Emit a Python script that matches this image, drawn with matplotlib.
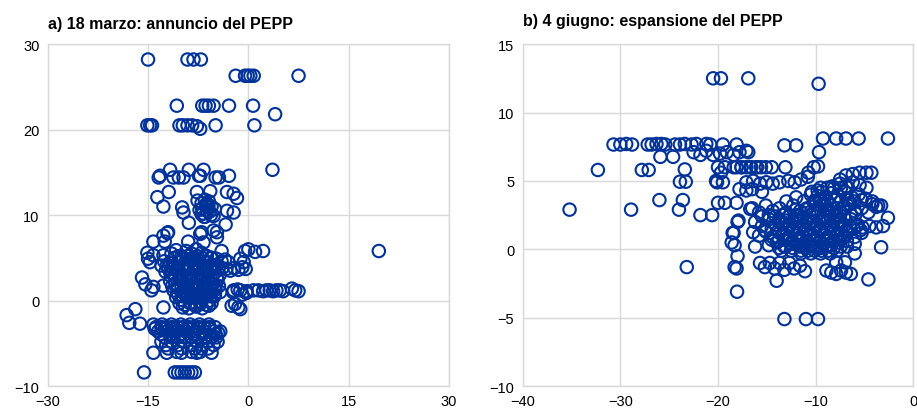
import matplotlib
matplotlib.use("Agg")
import matplotlib.pyplot as plt
import numpy as np

plt.rcParams['font.family'] = ['Liberation Sans', 'DejaVu Sans']

# %% panel a) 18 marzo
a_top_x = [-15.0, -9.1, -8.2, -7.1,
           -1.9, -0.5, -0.1, 0.3, 0.8, 7.5,
           -10.7, -6.9, -6.4, -5.9, -5.2, -2.9, 0.7,
           4.0,
           -15.1, -14.7, -14.4, -10.3, -9.8, -9.1, -8.4, -7.7, -7.2, -4.9, 0.9,
           3.6]
a_top_y = [28.2, 28.2, 28.2, 28.2,
           26.3, 26.3, 26.3, 26.3, 26.3, 26.3,
           22.8, 22.8, 22.8, 22.8, 22.8, 22.8, 22.8,
           21.8,
           20.5, 20.5, 20.5, 20.5, 20.5, 20.5, 20.5, 20.4, 20.1, 20.5, 20.5,
           15.3]

a_mid_x = [-13.4, -13.2, -11.7, -11.2, -10.4, -9.7, -8.9, -7.4, -7.2, -6.7, -4.9, -4.4, -2.9,
           -13.6, -12.7, -11.9, -9.9, -9.7, -8.9, -7.7, -5.7, -3.2, -2.2, -1.7, -3.2, -2.2, -3.4,
           -7.6, -7.0, -6.5, -6.0, -5.5, -5.0, -7.3, -6.8, -6.2, -5.6, -5.2, -6.6, -6.0,
           -6.9, -6.3, -5.8, -6.5, -7.0, -5.9,
           -14.2, -12.5, -12.1, -9.0, -7.0, -6.7, -5.2, -4.7, -4.0, -12.7, -12.0, -7.2, -4.7]
a_mid_y = [14.4, 14.6, 15.3, 14.4, 14.4, 14.4, 15.3, 14.6, 14.6, 15.3, 14.4, 14.4, 14.6,
           12.1, 11.0, 12.7, 10.9, 10.3, 9.1, 12.7, 12.8, 12.7, 12.5, 12.0, 10.5, 10.3, 8.9,
           11.7, 11.4, 11.8, 11.2, 11.0, 10.7, 10.6, 10.2, 10.5, 10.0, 9.9, 9.8, 11.0,
           10.8, 11.3, 10.4, 9.8, 10.1, 11.6,
           6.9, 6.9, 7.9, 6.9, 8.0, 6.8, 8.2, 7.4, 5.8, 7.6, 8.0, 7.8, 8.0]

a_core_x = [-11.5, -10.8, -10.0, -9.3, -8.5, -7.8, -7.0, -6.3, -5.6, -4.8, -4.0,
            -11.8, -11.0, -10.3, -9.6, -8.9, -8.2, -7.5, -6.8, -6.1, -5.4, -4.7, -3.9,
            -11.4, -10.6, -9.9, -9.2, -8.5, -7.8, -7.1, -6.4, -5.7, -5.0, -4.3,
            -11.7, -10.9, -10.2, -9.5, -8.8, -8.1, -7.4, -6.7, -6.0, -5.3, -4.6,
            -11.2, -10.5, -9.8, -9.1, -8.4, -7.7, -7.0, -6.3, -5.6, -4.9, -4.2,
            -10.8, -10.0, -9.3, -8.6, -7.9, -7.2, -6.5, -5.8, -5.1,
            -9.8, -8.9, -7.8, -6.9, -5.9,
            -3.3, -2.7, -2.1, -1.5, -0.9, -0.4, -3.5, -3.0,
            -2.3, -1.6, -0.9, -0.3,
            -0.5, 0.0, 1.0, 2.2, -1.2, -0.7,
            -15.1, -15.0, -14.7, -14.2, -12.7, -13.0, -12.6, -12.0, -12.4,
            -15.9, -15.4, -14.5, -14.2, -12.7, -11.7, -12.2, -12.7,
            -2.5, -2.0, -1.5, -1.2]
a_core_y = [5.5, 5.9, 5.2, 5.8, 5.5, 6.0, 5.6, 5.2, 5.0, 4.9, 4.6,
            4.4, 4.0, 4.6, 4.2, 4.8, 4.3, 4.7, 4.1, 4.5, 3.9, 4.2, 3.8,
            3.2, 3.5, 3.0, 3.6, 3.1, 3.5, 3.0, 3.4, 2.9, 3.3, 3.0,
            2.3, 2.0, 2.5, 1.9, 2.4, 2.0, 2.5, 1.9, 2.3, 2.0, 2.4,
            1.2, 1.5, 1.0, 1.4, 0.9, 1.3, 0.8, 1.2, 0.9, 1.3, 1.0,
            0.4, 0.1, 0.5, -0.2, 0.3, -0.1, 0.4, 0.0, 0.5,
            -0.8, -0.9, -0.7, -0.9, -0.6,
            3.7, 3.5, 3.8, 3.6, 3.9, 3.7, 4.8, 4.5,
            1.0, 1.3, 0.7, 0.9,
            5.8, 6.0, 5.7, 5.8, 4.9, 4.5,
            5.6, 4.9, 4.5, 5.3, 5.3, 4.1, 4.6, 3.8, 3.4,
            2.7, 1.9, 1.2, 1.6, 1.75, 3.3, 4.1, -0.8,
            -0.6, -0.4, -0.8, -1.0]

# second layer of the dense core
a_fill_x = [-11.1, -10.4, -9.7, -9.0, -8.3, -7.6, -6.9, -6.2, -5.5,
            -11.4, -10.7, -10.0, -9.3, -8.6, -7.9, -7.2, -6.5, -5.8, -5.1, -4.4,
            -11.0, -10.3, -9.6, -8.9, -8.2, -7.5, -6.8, -6.1, -5.4, -4.7,
            -11.4, -10.7, -10.0, -9.3, -8.6, -7.9, -7.2, -6.5, -5.8, -5.1, -4.4,
            -10.5, -9.8, -9.1, -8.4, -7.7, -7.0, -6.3, -5.6, -5.0,
            -10.3, -9.5, -8.7, -7.9, -7.1, -6.3, -5.5]
a_fill_y = [5.0, 5.2, 5.0, 5.2, 5.0, 5.2, 5.0, 5.2, 5.0,
            3.9, 3.7, 3.9, 3.7, 3.9, 3.7, 3.9, 3.7, 3.9, 3.7, 3.9,
            2.8, 2.6, 2.8, 2.6, 2.8, 2.6, 2.8, 2.6, 2.8, 2.6,
            1.7, 1.5, 1.7, 1.5, 1.7, 1.5, 1.7, 1.5, 1.7, 1.5, 1.7,
            0.7, 0.5, 0.7, 0.5, 0.7, 0.5, 0.7, 0.5, 0.7,
            -0.3, -0.5, -0.3, -0.5, -0.3, -0.5, -0.3]

# flat line at about +1.2
a_line_x = [-2.2, -1.2, -0.25, 0.75, 1.5, 2.2, 2.7, 3.2, 3.7, 4.2, 4.7, 5.2, 6.5, 7.0, 7.5]
a_line_y = [1.2, 1.2, 1.1, 1.2, 1.2, 1.1, 1.2, 1.2, 1.1, 1.2, 1.2, 1.1, 1.4, 1.2, 1.1]

a_neg_x = [-18.2, -17.8, -16.9, -16.2,
           -14.2, -13.5, -12.9, -12.2, -11.5, -10.8, -10.1, -9.4, -8.7, -8.0, -7.3, -6.6, -5.9, -5.2, -4.5,
           -14.0, -13.1, -12.4, -11.6, -10.9, -10.0, -9.1, -8.2, -7.5, -6.7, -5.8, -4.9, -4.2,
           -13.8, -13.0, -12.2, -11.4, -10.6, -9.8, -9.0, -8.2, -7.4, -6.6, -5.8, -5.0,
           -12.5, -11.5, -10.5, -9.5, -8.5, -7.5, -6.5, -5.5, -4.8,
           -13.0, -12.3, -11.6, -10.5, -9.6, -8.6, -7.7, -6.9, -6.0, -5.2, -4.6,
           -12.0, -10.0, -8.0, -7.0, -6.0,
           -14.2, -12.2, -10.7, -10.0, -8.5, -7.7, -7.2, -5.5,
           -15.6, -11.0, -10.5, -10.0, -9.5, -9.0, -8.5, -8.0,
           19.5]
a_neg_y = [-1.7, -2.6, -1.0, -2.7,
           -2.8, -3.6, -2.8, -3.6, -2.8, -3.6, -2.8, -3.6, -2.8, -3.6, -2.8, -3.6, -2.8, -3.6, -3.8,
           -3.3, -3.9, -3.3, -3.9, -3.3, -3.9, -3.3, -3.9, -3.3, -3.9, -3.3, -3.9, -3.6,
           -3.1, -3.1, -3.1, -3.1, -3.1, -3.1, -3.1, -3.1, -3.1, -3.1, -3.1, -3.1,
           -4.3, -4.3, -4.3, -4.3, -4.3, -4.3, -4.3, -4.3, -4.3,
           -4.8, -5.2, -4.8, -5.2, -4.8, -5.2, -4.8, -5.2, -4.8, -5.2, -4.8,
           -5.6, -5.6, -5.6, -5.6, -5.6,
           -6.1, -6.1, -6.0, -6.1, -6.0, -6.1, -6.0, -6.1,
           -8.4, -8.4, -8.4, -8.4, -8.4, -8.4, -8.4, -8.4,
           5.8]

# %% panel b) 4 giugno
b_top_x = [-20.5, -19.7, -16.9, -9.7,
           -35.2, -32.3, -28.9, -30.7, -30.0, -29.4, -28.8,
           -27.2, -26.8, -26.3, -25.8, -25.4, -24.4, -23.9, -23.4, -22.7, -22.2, -21.2, -20.8, -19.5, -18.1,
           -25.9, -24.6, -27.8, -27.1, -23.4, -23.9, -23.3, -26.0, -23.6, -24.0, -21.8, -20.6,
           -23.2,
           -9.25, -7.9, -6.9, -5.6, -2.6, -9.66, -9.76, -13.2, -12.0, -13.1]
b_top_y = [12.5, 12.5, 12.5, 12.1,
           2.9, 5.8, 2.9, 7.66, 7.66, 7.7, 7.66,
           7.66, 7.66, 7.7, 7.7, 7.66, 7.66, 7.66, 7.7, 7.66, 7.7, 7.7, 7.66, 7.66, 7.66,
           6.76, 6.76, 5.8, 5.8, 5.84, 4.94, 4.94, 3.6, 3.6, 2.9, 2.5, 2.5,
           -1.3,
           8.1, 8.1, 8.1, 8.1, 8.1, 7.1, 6.06, 7.6, 7.6, 6.0]

b_mid_x = [-22.5, -21.8, -21.2, -20.5, -19.8, -19.1, -18.4, -17.8, -17.1, -16.9,
           -20.0, -19.3, -18.4, -17.6, -16.7, -16.0,
           -18.1, -17.6, -17.1, -16.6, -16.1, -15.6, -15.1, -14.5,
           -20.2, -19.7, -20.1, -19.5,
           -17.1, -16.4, -15.7, -15.05, -14.4, -13.7, -12.8, -12.15, -11.5, -10.8, -10.2, -10.75,
           -17.8, -17.1, -16.5, -15.5, -20.0, -19.3, -18.1,
           -18.0, -18.5, -18.6, -18.3, -18.0, -18.3, -18.1, -18.05, -17.9, -18.4,
           -16.7, -16.4, -16.2]
b_mid_y = [7.1, 6.9, 7.2, 6.9, 7.0, 7.1, 6.9, 7.1, 7.2, 7.1,
           6.0, 6.0, 6.0, 6.0, 6.0, 6.0,
           6.0, 6.0, 6.0, 6.0, 6.0, 6.0, 6.0, 6.0,
           5.0, 5.6, 4.9, 4.9,
           4.9, 5.0, 4.8, 4.9, 4.8, 4.9, 5.0, 4.9, 5.1, 5.3, 6.0, 5.6,
           4.4, 4.3, 4.4, 4.2, 3.4, 3.4, 3.4,
           2.0, 1.2, 0.5, 0.3, -0.5, -1.3, -1.4, -3.1, 2.1, 1.2,
           2.95, 1.25, 0.2]

b_core_x = [-16.5, -15.8, -15.1, -14.4, -13.7, -13.0, -12.3, -11.6, -10.9, -10.2, -9.5, -8.8, -8.1, -7.4, -6.7, -6.0, -5.3, -4.6,
            -16.2, -15.5, -14.8, -14.1, -13.4, -12.7, -12.0, -11.3, -10.6, -9.9, -9.2, -8.5, -7.8, -7.1, -6.4, -5.7,
            -15.8, -15.1, -14.4, -13.7, -13.0, -12.3, -11.6, -10.9, -10.2, -9.5, -8.8, -8.1, -7.4, -6.7, -6.0, -5.3,
            -14.8, -14.0, -13.2, -12.4, -11.6, -10.8, -10.0, -9.2, -8.4, -7.6, -6.8, -6.0,
            -11.5, -10.5, -9.5, -8.5, -6.0,
            -10.5, -9.8, -9.1, -8.4, -7.7, -7.0, -6.3, -5.6, -4.9, -4.2,
            -7.5, -6.9, -6.2, -5.5, -4.8, -4.3,
            -8.3, -7.5, -6.9, -6.2, -5.5, -4.8, -4.2, -3.6, -3.8, -3.3,
            -6.5, -5.8, -5.2, -4.5, -3.8, -3.1, -3.3, -4.6, -2.6,
            -12.0, -11.2, -10.4, -9.6, -13.0, -11.8, -10.0, -9.0, -8.0]
b_core_y = [3.0, 2.7, 3.2, 2.8, 3.0, 2.7, 3.2, 2.8, 3.0, 2.7, 3.2, 2.8, 3.0, 2.7, 3.2, 2.8, 3.0, 2.7,
            2.0, 1.7, 2.2, 1.8, 2.0, 1.7, 2.2, 1.8, 2.0, 1.7, 2.2, 1.8, 2.0, 1.7, 2.2, 1.8,
            1.0, 1.3, 0.9, 1.2, 1.0, 1.3, 0.9, 1.2, 1.0, 1.3, 0.9, 1.2, 1.0, 1.3, 0.9, 1.2,
            0.3, 0.5, 0.2, 0.4, 0.3, 0.5, 0.2, 0.4, 0.3, 0.5, 0.2, 0.4,
            -0.3, -0.3, -0.3, -0.3, -0.3,
            4.0, 4.3, 3.8, 4.1, 3.9, 4.2, 3.8, 4.0, 3.7, 3.5,
            5.1, 5.4, 5.5, 5.6, 5.6, 5.6,
            4.6, 4.8, 4.6, 4.9, 4.7, 4.5, 3.3, 3.2, 3.1, 3.2,
            1.7, 1.7, 1.6, 1.7, 1.6, 1.7, 0.15, -2.2, 2.3,
            3.8, 3.5, 4.2, 3.6, 3.5, 2.5, 3.5, 2.4, 2.5]

# second and third layers of the dense core
b_fill_x = [-15.5, -14.8, -14.1, -13.4, -12.7, -12.0, -11.3, -10.6, -9.9, -9.2, -8.5, -7.8, -7.1, -6.4,
            -15.2, -14.5, -13.8, -13.1, -12.4, -11.7, -11.0, -10.3, -9.6, -8.9, -8.2, -7.5, -6.8, -6.1, -5.4,
            -14.5, -13.8, -13.1, -12.4, -11.7, -11.0, -10.3, -9.6, -8.9, -8.2, -7.5, -6.8,
            -13.5, -12.5, -11.5, -10.8, -10.1, -9.4, -8.7, -7.8,
            -10.2, -9.5, -8.8, -8.1, -7.4, -6.7, -6.0, -5.3,
            -9.5, -8.8, -8.1, -7.4, -6.7]
b_fill_y = [2.4, 2.5, 2.4, 2.5, 2.4, 2.5, 2.4, 2.5, 2.4, 2.5, 2.4, 2.5, 2.4, 2.5,
            1.4, 1.5, 1.4, 1.5, 1.4, 1.5, 1.4, 1.5, 1.4, 1.5, 1.4, 1.5, 1.4, 1.5, 1.4,
            0.7, 0.6, 0.7, 0.6, 0.7, 0.6, 0.7, 0.6, 0.7, 0.6, 0.7, 0.6,
            -0.1, -0.1, -0.1, -0.1, -0.1, -0.1, -0.1, -0.1,
            3.5, 3.6, 3.5, 3.6, 3.5, 3.6, 3.5, 3.6,
            4.5, 4.5, 4.5, 4.5, 4.5]

b_fill2_x = [-13.75, -13.05, -12.35, -11.65, -10.95, -10.25, -9.55, -8.85, -8.15, -7.45,
             -13.35, -12.65, -11.95, -11.25, -10.55, -9.85, -9.15, -8.45, -7.75, -7.05,
             -13.75, -13.05, -12.35, -11.65, -10.95, -10.25, -9.55, -8.85, -8.15, -7.45,
             -12.0, -11.0, -10.0, -9.0,
             -9.8, -9.4, -9.0, -8.6, -7.2, -6.5, -5.9]
b_fill2_y = [2.0, 2.1, 2.0, 2.1, 2.0, 2.1, 2.0, 2.1, 2.0, 2.1,
             1.0, 0.9, 1.0, 0.9, 1.0, 0.9, 1.0, 0.9, 1.0, 0.9,
             0.1, 0.2, 0.1, 0.2, 0.1, 0.2, 0.1, 0.2, 0.1, 0.2,
             2.9, 2.9, 2.9, 2.9,
             3.9, 4.2, 3.2, 2.8, 3.0, 3.3, 2.6]

b_neg_x = [-15.7, -15.2, -14.7, -14.2, -13.7, -13.2, -12.7, -12.2, -11.6, -11.1,
           -14.0,
           -8.9, -8.4, -7.9, -7.4, -6.9, -6.4, -7.9, -7.0,
           -13.2, -11.0, -9.76]
b_neg_y = [-1.0, -1.3, -1.0, -1.4, -1.0, -1.5, -1.0, -1.4, -1.2, -1.6,
           -2.3,
           -1.55, -1.7, -1.8, -1.55, -1.7, -1.8, -0.95, -0.95,
           -5.1, -5.1, -5.1]

ecb_blue = '#003299'
grid_col = '#d9d9d9'


def style(ax, xlim, ylim, xt, yt):
    ax.set_xlim(*xlim)
    ax.set_ylim(*ylim)
    ax.set_xticks(xt)
    ax.set_yticks(yt)
    ax.grid(True, color=grid_col, linewidth=1.0)
    ax.set_axisbelow(True)
    for s in ax.spines.values():
        s.set_color(grid_col)
        s.set_linewidth(1.0)
    ax.tick_params(length=0, labelsize=10.5, pad=6)


def pts(ax, xs, ys):
    ax.scatter(xs, ys, s=80, facecolors='none', edgecolors=ecb_blue,
               linewidths=1.5, zorder=3)


fig = plt.figure(figsize=(9.17, 4.14), dpi=100)

ax1 = fig.add_axes([0.052, 0.065, 0.4377, 0.826])
style(ax1, (-30, 30), (-10, 30), [-30, -15, 0, 15, 30], [-10, 0, 10, 20, 30])
pts(ax1, a_top_x, a_top_y)
pts(ax1, a_mid_x, a_mid_y)
pts(ax1, a_core_x, a_core_y)
pts(ax1, a_fill_x, a_fill_y)
pts(ax1, a_line_x, a_line_y)
pts(ax1, a_neg_x, a_neg_y)

ax2 = fig.add_axes([0.570, 0.065, 0.426, 0.826])
style(ax2, (-40, 0), (-10, 15), [-40, -30, -20, -10, 0], [-10, -5, 0, 5, 10, 15])
pts(ax2, b_top_x, b_top_y)
pts(ax2, b_mid_x, b_mid_y)
pts(ax2, b_core_x, b_core_y)
pts(ax2, b_fill_x, b_fill_y)
pts(ax2, b_fill2_x, b_fill2_y)
pts(ax2, b_neg_x, b_neg_y)

fig.text(0.052, 0.942, 'a) 18 marzo: annuncio del PEPP', fontsize=11.5,
         fontweight='bold', va='center', ha='left')
fig.text(0.570, 0.949, 'b) 4 giugno: espansione del PEPP', fontsize=11.5,
         fontweight='bold', va='center', ha='left')

fig.savefig('out.png', dpi=100)
